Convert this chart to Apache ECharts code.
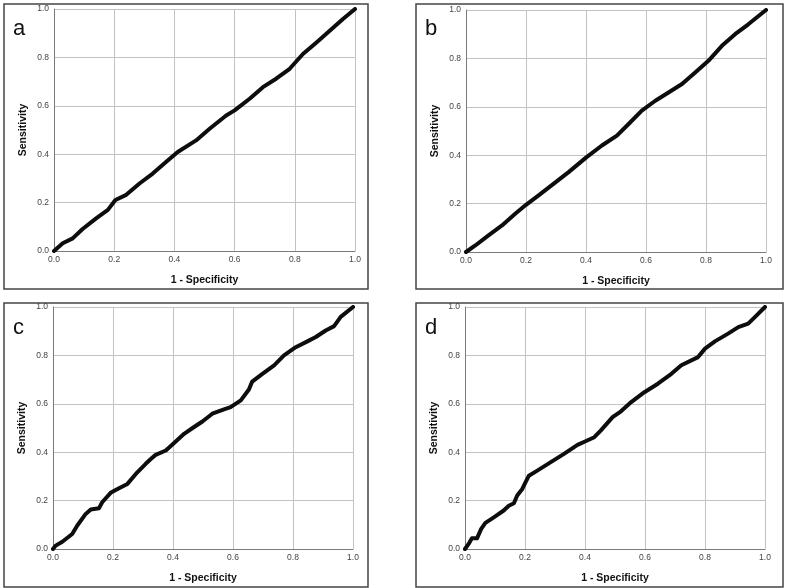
<!DOCTYPE html>
<html><head><meta charset="utf-8">
<script src="https://cdn.jsdelivr.net/npm/echarts@6/dist/echarts.min.js"></script>
<style>html,body{margin:0;padding:0;background:#fff}#c{width:787px;height:588px}</style>
</head><body><div id="c"></div>
<script>
const panelLetters = ['a', 'b', 'c', 'd'];
const ticks = [0, 0.2, 0.4, 0.6, 0.8, 1.0];
const xName = '1 - Specificity';
const yName = 'Sensitivity';

const curveA = [[0,0],[0.029,0.032],[0.062,0.052],[0.095,0.091],[0.14,0.135],[0.179,0.17],[0.204,0.211],[0.24,0.232],[0.284,0.279],[0.328,0.32],[0.372,0.368],[0.411,0.409],[0.472,0.457],[0.517,0.505],[0.572,0.56],[0.6,0.581],[0.65,0.629],[0.694,0.677],[0.738,0.712],[0.783,0.753],[0.827,0.814],[0.872,0.862],[0.916,0.91],[0.96,0.959],[1,1]];
const curveB = [[0,0],[0.031,0.027],[0.075,0.069],[0.12,0.11],[0.164,0.158],[0.2,0.195],[0.242,0.234],[0.298,0.288],[0.342,0.33],[0.401,0.391],[0.453,0.44],[0.503,0.481],[0.542,0.529],[0.586,0.584],[0.631,0.625],[0.675,0.659],[0.72,0.694],[0.764,0.742],[0.808,0.79],[0.853,0.852],[0.897,0.9],[0.941,0.941],[1,1]];
const curveC = [[0,0],[0.009,0.014],[0.031,0.03],[0.064,0.062],[0.081,0.097],[0.109,0.145],[0.126,0.163],[0.153,0.168],[0.164,0.193],[0.192,0.232],[0.22,0.251],[0.248,0.269],[0.281,0.317],[0.309,0.352],[0.326,0.372],[0.342,0.389],[0.376,0.407],[0.4,0.434],[0.437,0.476],[0.464,0.499],[0.498,0.527],[0.531,0.559],[0.57,0.577],[0.592,0.586],[0.626,0.614],[0.653,0.659],[0.664,0.692],[0.698,0.724],[0.737,0.759],[0.77,0.8],[0.809,0.834],[0.848,0.858],[0.876,0.876],[0.909,0.903],[0.937,0.921],[0.959,0.959],[1,1]];
const curveD = [[0,0],[0.012,0.021],[0.023,0.044],[0.04,0.044],[0.054,0.083],[0.068,0.108],[0.096,0.131],[0.129,0.159],[0.146,0.179],[0.163,0.189],[0.174,0.221],[0.191,0.248],[0.202,0.276],[0.213,0.303],[0.241,0.324],[0.286,0.359],[0.33,0.393],[0.375,0.43],[0.4,0.444],[0.431,0.462],[0.453,0.49],[0.492,0.545],[0.52,0.569],[0.554,0.607],[0.598,0.648],[0.643,0.683],[0.688,0.724],[0.721,0.759],[0.777,0.793],[0.8,0.828],[0.833,0.858],[0.877,0.89],[0.911,0.917],[0.944,0.931],[0.967,0.959],[1,1]];
const curves = [curveA, curveB, curveC, curveD];

const grids = [
  {left: 54, top: 9, width: 301, height: 242},
  {left: 466, top: 10, width: 300, height: 242},
  {left: 53, top: 307, width: 300, height: 242},
  {left: 465, top: 307, width: 300, height: 242}
];
const boxes = [
  {x: 4, y: 4, w: 364, h: 285},
  {x: 416, y: 4, w: 367, h: 285},
  {x: 4, y: 303, w: 364, h: 284},
  {x: 416, y: 303, w: 367, h: 284}
];

const chart = echarts.init(document.getElementById('c'), null, {renderer: 'canvas'});
const fmt = v => v.toFixed(1);
const axisCommon = {
  type: 'value', min: 0, max: 1, interval: 0.2,
  axisLine: {show: true, lineStyle: {color: '#7a7a7a', width: 1}},
  axisTick: {show: false},
  splitLine: {show: true, lineStyle: {color: '#c2c2c2', width: 1}},
  axisLabel: {color: '#444', fontSize: 8.5, fontFamily: 'Liberation Sans, Arial', formatter: fmt},
  nameLocation: 'middle',
  nameTextStyle: {color: '#111', fontWeight: 'bold', fontSize: 10.5, fontFamily: 'Liberation Sans, Arial'}
};
const option = {
  animation: false,
  grid: grids.map(g => Object.assign({containLabel: false}, g)),
  xAxis: grids.map((g, i) => Object.assign({}, axisCommon, {
    gridIndex: i, name: xName, nameGap: 24,
    axisLabel: Object.assign({}, axisCommon.axisLabel, {margin: 4})
  })),
  yAxis: grids.map((g, i) => Object.assign({}, axisCommon, {
    gridIndex: i, name: yName, nameGap: 25,
    axisLabel: Object.assign({}, axisCommon.axisLabel, {margin: 5})
  })),
  series: curves.map((d, i) => ({
    type: 'line', xAxisIndex: i, yAxisIndex: i, data: d,
    showSymbol: false, symbol: 'none',
    lineStyle: {color: '#0d0d0d', width: 4, cap: 'round', join: 'round'}
  })),
  graphic: boxes.map((b, i) => ({
    type: 'rect', shape: {x: b.x, y: b.y, width: b.w, height: b.h},
    style: {fill: 'none', stroke: '#444', lineWidth: 1.5}, silent: true
  })).concat(boxes.map((b, i) => ({
    type: 'text', left: b.x + 9, top: b.y + 14,
    style: {text: panelLetters[i], fontSize: 22, fill: '#111', fontFamily: 'Liberation Sans, Arial'}
  })))
};
chart.setOption(option);
</script></body></html>
